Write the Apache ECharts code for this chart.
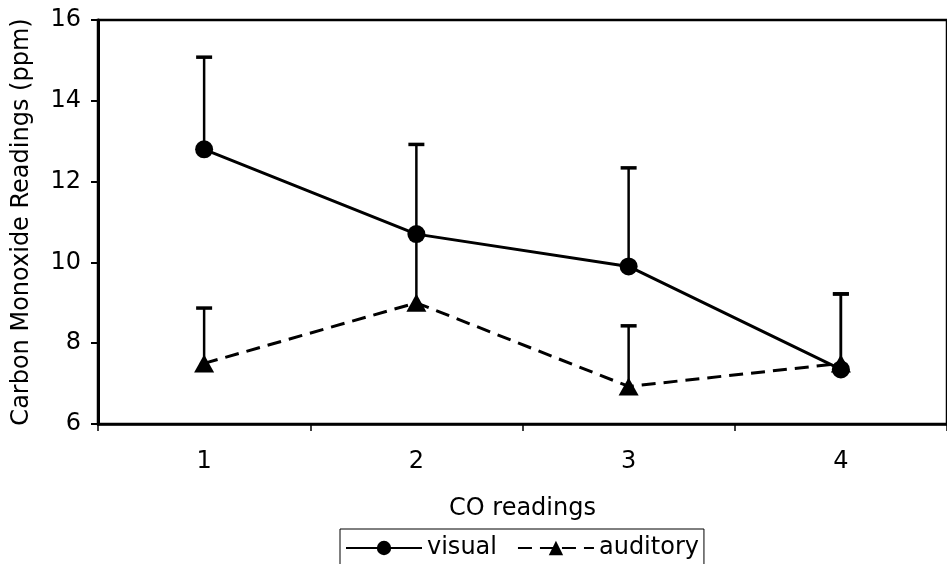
<!DOCTYPE html>
<html>
<head>
<meta charset="utf-8">
<script src="https://cdn.jsdelivr.net/npm/echarts@6/dist/echarts.min.js"></script>
<style>
  html, body { margin: 0; padding: 0; background: #fff; }
  #chart { width: 947px; height: 564px; }
</style>
</head>
<body>
<div id="chart"></div>
<script>
// CO readings, means with upper error bars (ppm)
const categories = ['1', '2', '3', '4'];
const visual = [12.8, 10.7, 9.9, 7.35];
const auditory = [7.5, 9.0, 6.93, 7.5];
const visualErr = [2.28, 2.22, 2.44, 1.87];
const auditoryErr = [1.37, 1.7, 1.5, 1.72];
const yTicks = { min: 6, max: 16, step: 2 };

const FONT = 'DejaVu Sans';

// custom renderer: vertical whisker above the mean with a short cap
function errorBarSeries(name, means, errs) {
  const data = means.map((m, i) => [i, m, m + errs[i]]);
  return {
    type: 'custom',
    name: name + ' err',
    z: 1,
    silent: true,
    data: data,
    encode: { x: 0, y: [1, 2] },
    renderItem: function (params, api) {
      const x = api.value(0);
      const p0 = api.coord([x, api.value(1)]);
      const p1 = api.coord([x, api.value(2)]);
      const half = 8;
      return {
        type: 'group',
        children: [
          { type: 'line', shape: { x1: p0[0], y1: p0[1], x2: p1[0], y2: p1[1] }, style: { stroke: '#000', lineWidth: 2.5 } },
          { type: 'line', shape: { x1: p1[0] - half, y1: p1[1], x2: p1[0] + half, y2: p1[1] }, style: { stroke: '#000', lineWidth: 3.5 } }
        ]
      };
    }
  };
}

const chart = echarts.init(document.getElementById('chart'), null, { renderer: 'canvas' });
chart.setOption({
  animation: false,
  backgroundColor: '#fff',
  textStyle: { fontFamily: FONT, color: '#000' },
  grid: {
    left: 98, right: -5, top: 20, bottom: 140,
    show: true, borderColor: '#000', borderWidth: 2.5
  },
  xAxis: {
    type: 'category',
    data: categories,
    boundaryGap: true,
    name: 'CO readings',
    nameLocation: 'middle',
    nameGap: 73,
    nameTextStyle: { fontFamily: FONT, fontSize: 24, color: '#000' },
    axisLine: { lineStyle: { color: '#000', width: 2.5 } },
    axisTick: { show: true, length: 7, lineStyle: { color: '#000', width: 1.5 } },
    axisLabel: { margin: 26, fontFamily: FONT, fontSize: 24, color: '#000' },
    splitLine: { show: false }
  },
  yAxis: {
    type: 'value',
    min: yTicks.min, max: yTicks.max, interval: yTicks.step,
    name: 'Carbon Monoxide Readings (ppm)',
    nameLocation: 'middle',
    nameGap: 64,
    nameTextStyle: { fontFamily: FONT, fontSize: 24, color: '#000' },
    axisLine: { show: true, lineStyle: { color: '#000', width: 3 } },
    axisTick: { show: true, length: 7, lineStyle: { color: '#000', width: 2 } },
    axisLabel: { margin: 17, fontFamily: FONT, fontSize: 24, color: '#000' },
    splitLine: { show: false }
  },
  legend: {
    data: ['visual', 'auditory'],
    left: 340, top: 529,
    orient: 'horizontal',
    borderColor: '#000', borderWidth: 1,
    padding: [7, 5, 12, 5],
    itemGap: 20,
    itemWidth: 76, itemHeight: 18,
    textStyle: { fontFamily: FONT, fontSize: 24, color: '#000' }
  },
  series: [
    errorBarSeries('visual', visual, visualErr),
    errorBarSeries('auditory', auditory, auditoryErr),
    {
      name: 'visual',
      type: 'line',
      data: visual,
      z: 3,
      symbol: 'circle',
      symbolSize: 18,
      itemStyle: { color: '#000' },
      lineStyle: { color: '#000', width: 3, type: 'solid' }
    },
    {
      name: 'auditory',
      type: 'line',
      data: auditory,
      z: 3,
      symbol: 'triangle',
      symbolSize: [20, 18],
      itemStyle: { color: '#000' },
      lineStyle: { color: '#000', width: 3, type: [14, 8] }
    }
  ]
});
</script>
</body>
</html>
